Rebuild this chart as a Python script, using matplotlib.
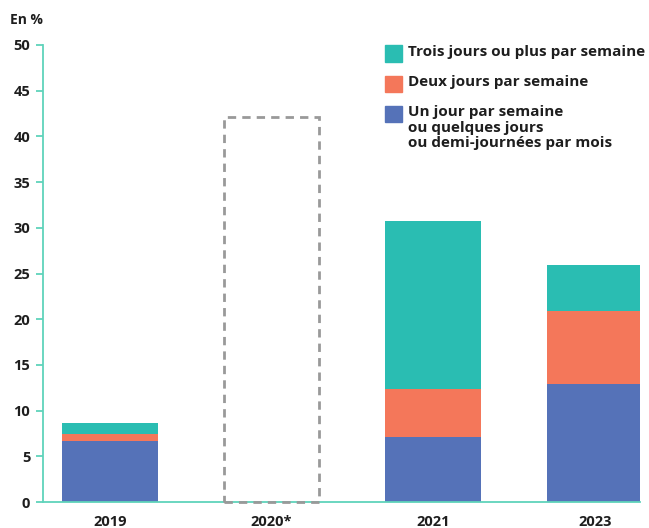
import numpy as np
import matplotlib.pyplot as plt
from matplotlib.patches import Rectangle

plt.rcParams['font.family'] = ['Open Sans', 'DejaVu Sans']

years = ['2019', '2020*', '2021', '2023']
un_jour = [6.7, 0, 7.1, 12.9]
deux_jours = [0.7, 0, 5.3, 8.0]
trois_jours = [1.2, 0, 18.3, 5.0]
total_2020 = 42.1  # valeur non comparable, cadre en pointillés

labels = ['Trois jours ou plus par semaine',
          'Deux jours par semaine',
          'Un jour par semaine\nou quelques jours\nou demi-journées par mois']
colors = ['#2abdb2', '#f4775a', '#5572b8']
axis_color = '#5fd3bb'
text_color = '#1e1e1e'

fig = plt.figure(figsize=(6.49, 5.28), dpi=100)
ax = fig.add_axes([0.066, 0.049, 0.92, 0.866])

x = np.arange(len(years))
w = 0.59
un = np.array(un_jour)
deux = np.array(deux_jours)
trois = np.array(trois_jours)
ax.bar(x, un, w, color=colors[2], zorder=2)
ax.bar(x, deux, w, bottom=un, color=colors[1], zorder=2)
ax.bar(x, trois, w, bottom=un + deux, color=colors[0], zorder=2)

# 2020 : cadre en pointillés
ax.bar(x[1], total_2020, w, fill=False, edgecolor='#999999', linewidth=2,
       linestyle=(0, (3, 2.2)), zorder=4, clip_on=False)

ax.set_xlim(-0.415, 3.28)
ax.set_ylim(0, 50)
ax.set_yticks(np.arange(0, 51, 5))
ax.set_xticks(x)
ax.set_xticklabels(years)

for s in ['top', 'right']:
    ax.spines[s].set_visible(False)
for s in ['left', 'bottom']:
    ax.spines[s].set_color(axis_color)
    ax.spines[s].set_linewidth(1.3)
ax.spines['bottom'].set_zorder(3)
ax.tick_params(axis='y', colors=axis_color, length=5, width=1.3, labelcolor=text_color,
               labelsize=10.5, pad=4)
ax.tick_params(axis='x', length=0, labelcolor=text_color, labelsize=10.5, pad=9)
for lbl in ax.get_xticklabels() + ax.get_yticklabels():
    lbl.set_fontweight('bold')

fig.text(0.015, 0.963, 'En %', fontsize=10, fontweight='bold', color=text_color,
         va='center', ha='left')

# légende
leg_y = [0.915, 0.858, 0.801]
for lab, col, yy in zip(labels, colors, leg_y):
    fig.patches.append(Rectangle((0.593, yy - 0.033), 0.026, 0.032, color=col,
                                 transform=fig.transFigure, figure=fig))
    fig.text(0.628, yy, lab, fontsize=11, fontweight='bold', color=text_color,
             va='top', ha='left', linespacing=1.15)

fig.savefig('out.png', dpi=100)
